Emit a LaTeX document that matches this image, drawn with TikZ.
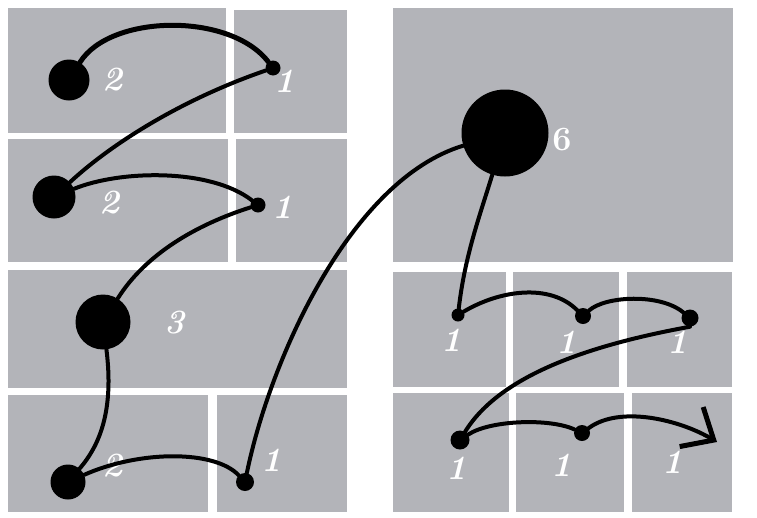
\documentclass[tikz,border=0pt]{standalone}
\usetikzlibrary{arrows.meta}
\definecolor{blockgray}{RGB}{179,180,185}
\begin{document}
\begin{tikzpicture}[x=1pt,y=-1pt,
  block/.style={fill=blockgray,draw=none},
  dot/.style={circle,fill=black,draw=none,inner sep=0pt,minimum size=#1},
  link/.style={line width=4pt,line cap=round,black},
  num/.style={text=white,font=\fontsize{34}{34}\selectfont\bfseries\itshape,inner sep=0pt}]
\useasboundingbox (0,0) rectangle (757,517);
% left panel blocks
\fill[block] (8,8) rectangle (226,133);
\fill[block] (234,10) rectangle (347,133);
\fill[block] (8,139) rectangle (228,262);
\fill[block] (236,139) rectangle (347,262);
\fill[block] (8,270) rectangle (347,388);
\fill[block] (8,395) rectangle (208,512);
\fill[block] (217,395) rectangle (347,512);
% right panel blocks
\fill[block] (393,8) rectangle (733,262);
\fill[block] (393,272) rectangle (506,387);
\fill[block] (513,272) rectangle (619,387);
\fill[block] (627,272) rectangle (732,387);
\fill[block] (393,393) rectangle (509,512);
\fill[block] (516,393) rectangle (624,512);
\fill[block] (632,393) rectangle (732,512);
% dots
\node[dot=41pt] (A) at (69,80) {};
\node[dot=15pt] (B) at (273,68) {};
\node[dot=43pt] (C) at (54,197) {};
\node[dot=15pt] (D) at (258,205) {};
\node[dot=55pt] (E) at (103,322) {};
\node[dot=35pt] (F) at (68,482) {};
\node[dot=18pt] (G) at (245,482) {};
\node[dot=87pt] (H) at (505,133) {};
\node[dot=13pt] (I) at (458,315) {};
\node[dot=16pt] (J) at (583,316) {};
\node[dot=17pt] (K) at (690,318) {};
\node[dot=19pt] (L) at (460,440) {};
\node[dot=16pt] (M) at (582,433) {};
\coordinate (N) at (717,442);
% labels
\node[num] (lA) at (113,80) {2};
\node[num] (lB) at (285,81) {1};
\node[num] (lC) at (110,203) {2};
\node[num] (lD) at (283,207) {1};
\node[num] (lE) at (175,323) {3};
\node[num] (lF) at (113,466) {2};
\node[num] (lG) at (272,460) {1};
\node[num,font=\fontsize{34}{34}\selectfont\bfseries] (lH) at (562,140) {6};
\node[num] (lI) at (452,340) {1};
\node[num] (lJ) at (567,342) {1};
\node[num] (lK) at (678,342) {1};
\node[num] (lL) at (457,468) {1};
\node[num] (lM) at (562,465) {1};
\node[num] (lN) at (673,462) {1};
% connectors
\draw[link,line width=5pt] (A) .. controls (110,14) and (230,12) .. (B);
\draw[link] (B) .. controls (180,100) and (110,145) .. (C);
\draw[link] (C) .. controls (120,170) and (210,168) .. (D);
\draw[link] (D) .. controls (195,225) and (145,255) .. (E);
\draw[link] (E) .. controls (114,410) and (100,445) .. (F);
\draw[link] (F) .. controls (140,450) and (215,450) .. (G);
\draw[link] (G) .. controls (270,360) and (350,180) .. (H);
\draw[link] (H) .. controls (480,215) and (465,255) .. (I);
\draw[link] (I) .. controls (500,290) and (550,283) .. (J);
\draw[link] (J) .. controls (605,296) and (660,293) .. (K);
\draw[link] (K.south) .. controls (590,345) and (500,375) .. (L);
\draw[link] (L) .. controls (490,420) and (550,418) .. (M);
\draw[link,-{Straight Barb[length=26pt,width=46pt,line width=5pt]}] (M) .. controls (620,405) and (680,420) .. (N);
\end{tikzpicture}
\end{document}
